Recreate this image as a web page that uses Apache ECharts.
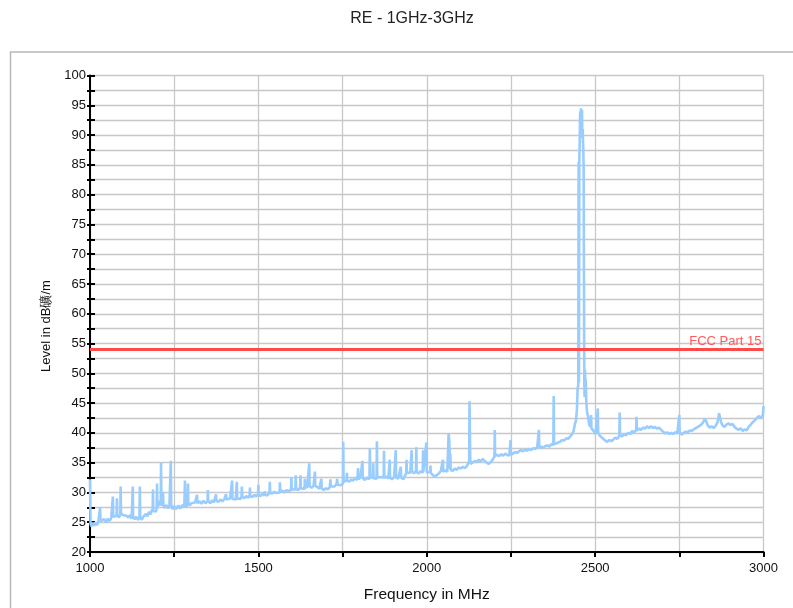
<!DOCTYPE html>
<html>
<head>
<meta charset="utf-8">
<script src="https://cdn.jsdelivr.net/npm/echarts@6/dist/echarts.min.js"></script>
<style>
html,body{margin:0;padding:0;background:#fff;}
#chart{width:793px;height:608px;}
</style>
</head>
<body>
<div id="chart"></div>
<script>
// ---- Data (frequency in MHz, level in dB) ----
const seg1000 = [[1000,32.2],[1001.5,24.8],[1004,24.3],[1008,24.9],[1012,24.4],[1016,25.0],[1020,24.5],[1025,25.1],[1029,24.8],[1030,27.5],[1031,25.2],[1036,24.9],[1042,25.5],[1048,25.0],[1053,25.6],[1058,25.2],[1063,25.7],[1067,25.4],[1068,29.3],[1069,25.9],[1074,25.6],[1079,26.1],[1080,29.0],[1081,26.2],[1086,25.8],[1090,26.3],[1091,31.0],[1092,26.6],[1097,26.2],[1102,26.5],[1108,26.1],[1114,25.8],[1119,26.2],[1124,25.6],[1126,25.9],[1127,31.0],[1128,26.0],[1133,25.5],[1138,25.9],[1143,25.4],[1147,25.8],[1148,31.0],[1149,25.9],[1154,25.4],[1158,25.9],[1162,25.6],[1166,26.4],[1170,26.0],[1175,26.7],[1180,26.3],[1184,27.1],[1186,26.7],[1187,30.5],[1188,26.9],[1192,27.2],[1196,26.8],[1198,27.3],[1199,31.5],[1200,27.4],[1204,27.7],[1207,28.6],[1210,27.8],[1211,35.0],[1212,28.1],[1214,28.7],[1216,27.7],[1217,30.0],[1218,27.9],[1222,27.4],[1227,27.9],[1232,27.3],[1236,27.9],[1239,27.6],[1240,35.3],[1241,27.9],[1245,27.2],[1250,27.7],[1256,27.2],[1262,27.8],[1268,27.3],[1274,27.9],[1280,27.5],[1281,27.8],[1282,32.0],[1283,28.1],[1287,27.6],[1290,28.1],[1291,31.5],[1292,28.3],[1296,27.8]];
const seg1300 = [[1301,28.2],[1306,27.9],[1312,28.3],[1317,28.0],[1318,29.6],[1319,28.2],[1325,28.5],[1331,28.1],[1337,28.6],[1343,28.2],[1349,28.5],[1350,30.4],[1351,28.6],[1357,28.2],[1363,28.7],[1368,28.3],[1373,28.6],[1374,29.7],[1375,28.7],[1381,28.4],[1387,28.8],[1393,28.5],[1399,28.9],[1403,28.6],[1404,29.7],[1405,28.8],[1410,28.6],[1416,29.0],[1421,28.7],[1422,32.0],[1423,28.9],[1428,29.2],[1433,28.8],[1436,31.8],[1437,29.0],[1442,29.2],[1447,28.9],[1450,29.3],[1451,31.0],[1452,29.3],[1458,29.0],[1464,29.4],[1470,29.1],[1474,29.5],[1475,30.8],[1476,29.4],[1482,29.2],[1488,29.6],[1494,29.3],[1499,29.7],[1500,31.3],[1501,29.6]];
const seg1500 = [[1507,29.4],[1512,29.8],[1518,29.5],[1519,30.2],[1520,29.6],[1526,29.5],[1533,29.9],[1534,31.8],[1535,30.0],[1541,29.8],[1547,30.1],[1553,29.9],[1558,30.2],[1563,30.0],[1564,31.7],[1565,30.1],[1571,30.3],[1577,30.0],[1583,30.4],[1589,30.2],[1594,30.5],[1597,30.4],[1598,32.4],[1599,30.5],[1604,30.7],[1610,30.5],[1611,32.9],[1612,30.6],[1618,30.4],[1624,30.8],[1625,32.9],[1626,30.7],[1631,30.9],[1637,30.6],[1638,32.3],[1639,30.8],[1645,30.9],[1650,31.1],[1651,34.9],[1652,31.0],[1658,30.8],[1664,31.1],[1667,31.0],[1668,33.5],[1669,31.1],[1675,30.9],[1681,30.6],[1686,30.8],[1687,32.3],[1688,30.7],[1694,30.4],[1700,30.7],[1706,30.5],[1712,30.9],[1714,32.2],[1715,31.0],[1720,31.2],[1726,31.0],[1732,31.4],[1734,32.3],[1735,31.3],[1740,31.6],[1745,31.2],[1751,31.5],[1752,38.5],[1753,31.8]];
const seg1750 = [[1758,31.7],[1762,32.0],[1763,33.3],[1764,32.0],[1770,31.8],[1776,32.2],[1782,32.0],[1788,32.4],[1794,32.1],[1796,34.1],[1797,32.2],[1803,32.5],[1808,32.2],[1809,35.3],[1810,32.4],[1816,32.1],[1822,32.5],[1828,32.2],[1830,32.6],[1831,37.4],[1832,32.5],[1836,32.3],[1840,32.5],[1841,34.9],[1842,32.4],[1847,32.6],[1851,32.3],[1852,38.6],[1853,32.5],[1858,32.2],[1864,32.6],[1869,32.3],[1872,32.5],[1873,37.0],[1874,32.4],[1880,32.7],[1886,32.3],[1889,32.6],[1890,35.5],[1891,32.5],[1897,32.2],[1903,32.6],[1907,32.4],[1908,37.1],[1909,32.5],[1915,32.3],[1920,32.6],[1923,34.3],[1924,32.5],[1930,32.2],[1935,32.8],[1939,33.2],[1940,35.5],[1941,33.3],[1946,33.6],[1951,33.3],[1955,37.1],[1956,33.5],[1962,33.2],[1968,33.6],[1969,37.6],[1970,33.4],[1976,33.2],[1982,33.6],[1988,33.3],[1989,37.1],[1990,33.5],[1995,33.2],[1999,38.4],[2000,33.4]];
const seg2000 = [[2005,33.6],[2010,33.4],[2011,34.5],[2012,33.3],[2018,32.9],[2024,32.7],[2030,32.9],[2036,33.2],[2042,33.6],[2047,33.4],[2048,35.5],[2049,33.5],[2055,33.7],[2061,33.5],[2064,33.8],[2065,39.9],[2067,38.5],[2069,34.0],[2070,36.5],[2071,33.8],[2077,33.6],[2083,34.0],[2089,33.8],[2095,34.2],[2101,34.0],[2107,34.3],[2113,34.1],[2119,34.4],[2124,34.6],[2126,35.3],[2127,45.3],[2129,36.0],[2130,34.8],[2136,35.0],[2142,35.3],[2148,35.1],[2154,35.5],[2160,35.2],[2166,35.6],[2172,35.3],[2178,35.0],[2184,34.8],[2190,35.1],[2196,35.5],[2201,36.0],[2202,40.5],[2203,36.2],[2209,36.3],[2215,36.1],[2221,36.4],[2227,36.2],[2233,36.5],[2239,36.3],[2245,36.2],[2248,36.0],[2249,38.8],[2250,36.3],[2256,36.5],[2262,36.8],[2268,36.6],[2274,36.9],[2280,37.1],[2286,36.9],[2292,37.2],[2298,37.0],[2304,37.3],[2310,37.1],[2316,37.4],[2322,37.3],[2328,37.6],[2332,37.4],[2333,40.5],[2334,37.5],[2340,37.7],[2346,37.5],[2352,37.8],[2358,37.9],[2364,37.7],[2370,38.1],[2376,38.0],[2377,46.2],[2378,38.1],[2384,38.2],[2390,38.4],[2396,38.5],[2402,38.8],[2408,38.7],[2414,39.1],[2420,39.0],[2426,39.4],[2432,39.8],[2436,40.3]];
const segPeak = [[2440,41.5],[2443,42.0],[2446,44.0],[2448,47.5],[2450,48.0],[2451,85.5],[2452,48.5],[2453,86.0],[2454,88.0],[2455,92.5],[2456,94.0],[2457,91.5],[2458,94.5],[2459,90.0],[2460,92.0],[2461,94.2],[2462,89.5],[2463,91.0],[2464,89.0],[2465,87.5],[2466,84.0],[2467,62.0],[2468,48.0],[2469,46.0],[2470,50.6],[2471,47.0],[2472,49.0],[2474,45.0],[2476,43.5],[2479,42.7],[2482,41.5],[2485,41.0],[2488,43.0],[2489,40.8],[2493,40.5],[2497,40.2],[2501,39.8],[2505,40.0],[2508,44.1],[2509,40.0],[2514,39.5],[2519,39.2],[2524,39.0],[2530,38.7],[2536,38.5],[2542,38.8],[2548,38.6]];
const seg2550 = [[2554,38.9],[2560,39.2],[2566,39.0],[2572,39.5],[2573,43.4],[2574,39.6],[2580,39.4],[2586,39.8],[2592,39.6],[2598,40.0],[2604,39.8],[2610,40.3],[2616,40.1],[2622,40.5],[2623,42.7],[2624,40.4],[2630,40.7],[2636,40.5],[2642,40.9],[2648,40.7],[2654,41.1],[2660,40.8],[2666,41.1],[2672,40.8],[2678,41.0],[2684,40.7],[2690,40.9],[2696,40.5],[2702,40.2],[2708,39.9],[2714,40.1],[2720,39.8],[2726,40.0],[2732,39.8],[2738,40.1],[2744,39.9],[2749,40.0],[2750,43.0],[2751,40.1],[2757,39.7],[2763,40.0],[2769,40.2],[2775,40.1],[2781,40.4],[2787,40.3],[2793,40.6],[2799,40.8],[2805,41.0],[2811,41.2],[2817,41.5],[2822,41.9],[2826,42.4],[2830,41.9],[2834,41.3],[2840,40.9],[2846,41.1],[2852,40.8],[2858,41.2],[2863,41.7],[2866,42.6],[2868,43.3],[2870,42.8],[2872,43.1],[2874,41.8],[2878,41.3],[2884,41.0],[2890,41.4],[2896,41.6],[2902,41.3],[2908,41.5],[2914,41.0],[2920,40.7],[2926,40.5],[2932,40.8],[2938,40.3],[2944,40.6],[2950,40.4],[2956,41.0],[2962,41.4],[2968,41.8],[2974,42.1],[2980,42.5],[2986,42.8],[2992,42.6],[2998,42.9],[3000,44.5]];

const limitValue = 54;
const limitName = 'FCC Part 15';
const titleText = 'RE - 1GHz-3GHz';
const xName = 'Frequency in MHz';
const yName = 'Level in dB礦/m';
const xMin = 1000, xMax = 3000, xStep = 250, xLabelStep = 500;
const yMin = 20, yMax = 100, yStep = 2.5, yLabelStep = 5;

const spectrum = [].concat(seg1000, seg1300, seg1500, seg1750, seg2000, segPeak, seg2550);

const FONT = "'Liberation Sans', Arial, sans-serif";
const chart = echarts.init(document.getElementById('chart'), null, {renderer: 'canvas'});

const gridColor = '#c8c8c8';

chart.setOption({
  animation: false,
  backgroundColor: '#ffffff',
  textStyle: {fontFamily: FONT},
  title: {
    text: titleText,
    left: 407, top: 6, textAlign: 'center',
    textStyle: {fontFamily: FONT, fontSize: 16, fontWeight: 'normal', color: '#222'}
  },
  grid: {left: 90, right: 29.5, top: 75.5, bottom: 55.5, containLabel: false},
  xAxis: {
    type: 'value', min: xMin, max: xMax, interval: xStep,
    name: xName, nameLocation: 'middle', nameGap: 35,
    nameTextStyle: {fontFamily: FONT, fontSize: 15.5, color: '#111'},
    axisLine: {show: true, onZero: false, lineStyle: {color: '#000', width: 2}},
    axisTick: {show: true, length: 5, lineStyle: {color: '#000', width: 2}},
    axisLabel: {
      margin: 10, fontSize: 13, color: '#111', fontFamily: FONT,
      showMinLabel: true, showMaxLabel: true,
      formatter: v => (v % xLabelStep === 0 ? String(v) : '')
    },
    splitLine: {show: true, lineStyle: {color: gridColor, width: 1.3}}
  },
  yAxis: [{
    type: 'value', min: yMin, max: yMax, interval: yStep, position: 'left',
    axisLine: {show: true, onZero: false, lineStyle: {color: '#000', width: 2}},
    axisTick: {show: true, length: 3, lineStyle: {color: '#000', width: 2}},
    axisLabel: {
      margin: 4, fontSize: 13, color: '#111', fontFamily: FONT,
      showMinLabel: true, showMaxLabel: true,
      formatter: v => (Math.abs(v % yLabelStep) < 1e-9 ? String(v) : '')
    },
    splitLine: {show: true, lineStyle: {color: gridColor, width: 1.3}}
  }, {
    type: 'value', min: yMin, max: yMax, interval: yStep, position: 'left', offset: 0,
    axisLine: {show: false},
    axisTick: {show: true, inside: true, length: 5, lineStyle: {color: '#000', width: 2}},
    axisLabel: {show: false},
    splitLine: {show: false}
  }],
  graphic: [{
    type: 'rect', silent: true, z: -1,
    shape: {x: 10.5, y: 52, width: 820, height: 600},
    style: {fill: 'none', stroke: '#b8b8b8', lineWidth: 1.5}
  }, {
    type: 'text', silent: true,
    x: 46.5, y: 326, rotation: Math.PI / 2,
    style: {text: yName, font: "13px 'Liberation Sans', Arial, sans-serif", fill: '#111', align: 'center', verticalAlign: 'middle'}
  }],
  series: [{
    name: 'Level', type: 'line', xAxisIndex: 0, yAxisIndex: 0,
    data: spectrum, showSymbol: false, symbol: 'none', sampling: 'none',
    lineStyle: {color: '#99ccff', width: 2.6}, z: 2,
    markLine: {
      silent: true, symbol: 'none', z: 5,
      lineStyle: {color: '#ff4a4a', width: 3, type: 'solid'},
      label: {show: true, position: 'insideEndTop', distance: 2, formatter: limitName,
              color: '#ff5a5a', fontSize: 13, fontFamily: FONT},
      data: [{yAxis: limitValue}]
    }
  }]
});
</script>
</body>
</html>
